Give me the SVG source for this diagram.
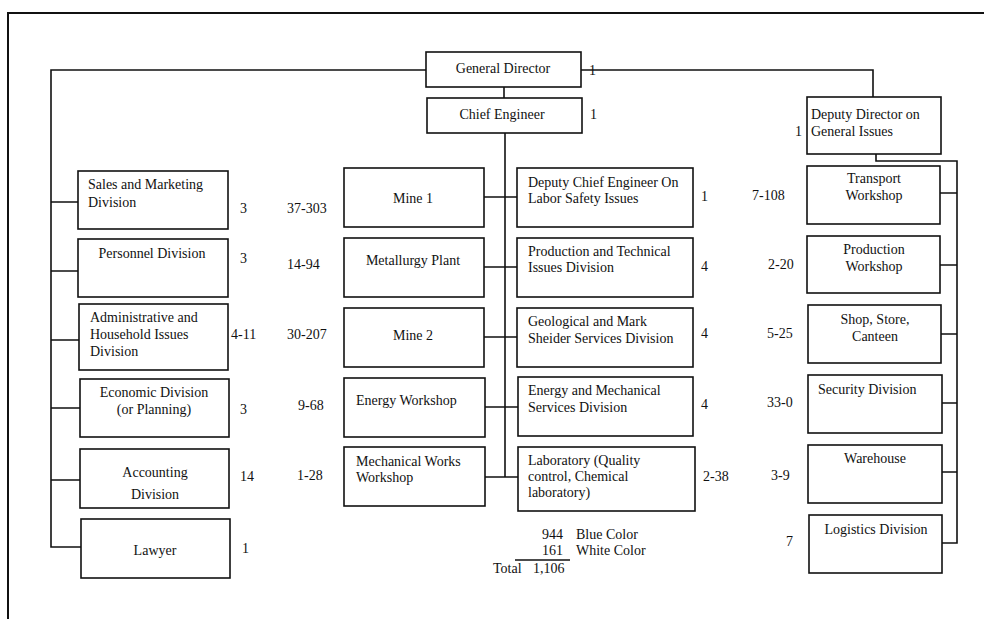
<svg xmlns="http://www.w3.org/2000/svg" width="984" height="619" viewBox="0 0 984 619">
<style>
text{font-family:"Liberation Serif","Times New Roman",serif;font-size:14px;fill:#111}
.c{text-anchor:middle}
.e{text-anchor:end}
.box{fill:#fff;stroke:#111;stroke-width:1.6}
.ln{fill:none;stroke:#111;stroke-width:1.6}
.fr{fill:none;stroke:#111;stroke-width:2}
</style>
<rect width="984" height="619" fill="#fff"/>
<polyline class="fr" points="8,619 8,13 984,13"/>
<g id="connectors">
<path class="ln" d="M426,70 H51 V547 H81"/>
<path class="ln" d="M51,202 H78 M51,271 H78 M51,340 H79 M51,408 H80 M51,480 H80"/>
<path class="ln" d="M581,70 H873 V97"/>
<path class="ln" d="M504,87 V98"/>
<path class="ln" d="M505,133 V477"/>
<path class="ln" d="M484,197 H517 M484,267 H517 M484,337 H517 M485,407 H518 M485,477 H518"/>
<path class="ln" d="M876,154 V161 H957 V543 H942"/>
<path class="ln" d="M940,193 H957 M940,265 H957 M941,334 H957 M942,403 H957 M942,472 H957"/>
</g>
<g id="general-director"><rect class="box" x="426" y="52" width="155" height="35"/><text class="c" x="503" y="73">General Director</text><text x="589" y="75">1</text></g>
<g id="chief-engineer"><rect class="box" x="427" y="98" width="155" height="35"/><text class="c" x="502" y="119">Chief Engineer</text><text x="590" y="119">1</text></g>
<g id="deputy-director"><rect class="box" x="807" y="97" width="134" height="57"/><text x="811" y="119">Deputy Director on</text><text x="811" y="136">General Issues</text><text x="795" y="136">1</text></g>

<g id="sales"><rect class="box" x="78" y="171" width="150" height="58"/><text x="88" y="189">Sales and Marketing</text><text x="88" y="207">Division</text><text x="240" y="213">3</text><text x="287" y="213">37-303</text></g>
<g id="personnel"><rect class="box" x="78" y="239" width="150" height="58"/><text class="c" x="152" y="258">Personnel Division</text><text x="240" y="263">3</text><text x="287" y="269">14-94</text></g>
<g id="admin"><rect class="box" x="79" y="304" width="149" height="66"/><text x="90" y="322">Administrative and</text><text x="90" y="339">Household Issues</text><text x="90" y="356">Division</text><text x="231" y="339">4-11</text><text x="287" y="339">30-207</text></g>
<g id="economic"><rect class="box" x="80" y="379" width="149" height="58"/><text class="c" x="154" y="397">Economic Division</text><text class="c" x="154" y="414">(or Planning)</text><text x="240" y="414">3</text><text x="298" y="410">9-68</text></g>
<g id="accounting"><rect class="box" x="80" y="449" width="149" height="59"/><text class="c" x="155" y="477">Accounting</text><text class="c" x="155" y="499">Division</text><text x="240" y="481">14</text><text x="297" y="480">1-28</text></g>
<g id="lawyer"><rect class="box" x="81" y="519" width="149" height="59"/><text class="c" x="155" y="555">Lawyer</text><text x="242" y="553">1</text></g>

<g id="mine1"><rect class="box" x="344" y="168" width="140" height="59"/><text class="c" x="413" y="203">Mine 1</text></g>
<g id="metallurgy"><rect class="box" x="344" y="238" width="140" height="59"/><text class="c" x="413" y="265">Metallurgy Plant</text></g>
<g id="mine2"><rect class="box" x="344" y="308" width="140" height="59"/><text class="c" x="413" y="340">Mine 2</text></g>
<g id="energy-workshop"><rect class="box" x="344" y="378" width="141" height="59"/><text x="356" y="405">Energy Workshop</text></g>
<g id="mechanical-workshop"><rect class="box" x="344" y="447" width="141" height="59"/><text x="356" y="466">Mechanical Works</text><text x="356" y="482">Workshop</text></g>

<g id="deputy-chief"><rect class="box" x="517" y="168" width="176" height="59"/><text x="528" y="187">Deputy Chief Engineer On</text><text x="528" y="203">Labor Safety Issues</text><text x="701" y="201">1</text><text x="752" y="200">7-108</text></g>
<g id="production-technical"><rect class="box" x="517" y="238" width="176" height="59"/><text x="528" y="256">Production and Technical</text><text x="528" y="272">Issues Division</text><text x="701" y="271">4</text><text x="768" y="269">2-20</text></g>
<g id="geological"><rect class="box" x="517" y="308" width="176" height="59"/><text x="528" y="326">Geological and Mark</text><text x="528" y="343">Sheider Services Division</text><text x="701" y="338">4</text><text x="767" y="338">5-25</text></g>
<g id="energy-mechanical"><rect class="box" x="518" y="377" width="175" height="59"/><text x="528" y="395">Energy and Mechanical</text><text x="528" y="412">Services Division</text><text x="701" y="409">4</text><text x="767" y="407">33-0</text></g>
<g id="laboratory"><rect class="box" x="518" y="447" width="177" height="64"/><text x="528" y="465">Laboratory (Quality</text><text x="528" y="481">control, Chemical</text><text x="528" y="497">laboratory)</text><text x="703" y="481">2-38</text><text x="771" y="480">3-9</text></g>

<g id="transport"><rect class="box" x="807" y="166" width="133" height="58"/><text class="c" x="874" y="183">Transport</text><text class="c" x="874" y="200">Workshop</text></g>
<g id="production-workshop"><rect class="box" x="807" y="236" width="133" height="57"/><text class="c" x="874" y="254">Production</text><text class="c" x="874" y="271">Workshop</text></g>
<g id="shop"><rect class="box" x="808" y="305" width="133" height="58"/><text class="c" x="875" y="324">Shop, Store,</text><text class="c" x="875" y="341">Canteen</text></g>
<g id="security"><rect class="box" x="808" y="375" width="134" height="58"/><text x="818" y="394">Security Division</text></g>
<g id="warehouse"><rect class="box" x="808" y="445" width="134" height="58"/><text class="c" x="875" y="463">Warehouse</text></g>
<g id="logistics"><rect class="box" x="809" y="515" width="133" height="58"/><text class="c" x="876" y="534">Logistics Division</text><text x="786" y="546">7</text></g>

<g id="totals">
<text class="e" x="563" y="539">944</text><text x="576" y="539">Blue Color</text>
<text class="e" x="563" y="555">161</text><text x="576" y="555">White Color</text>
<line class="ln" x1="515" y1="560" x2="570" y2="560" stroke-width="1.2"/>
<text x="493" y="573">Total</text><text x="533" y="573">1,106</text>
</g>
</svg>
